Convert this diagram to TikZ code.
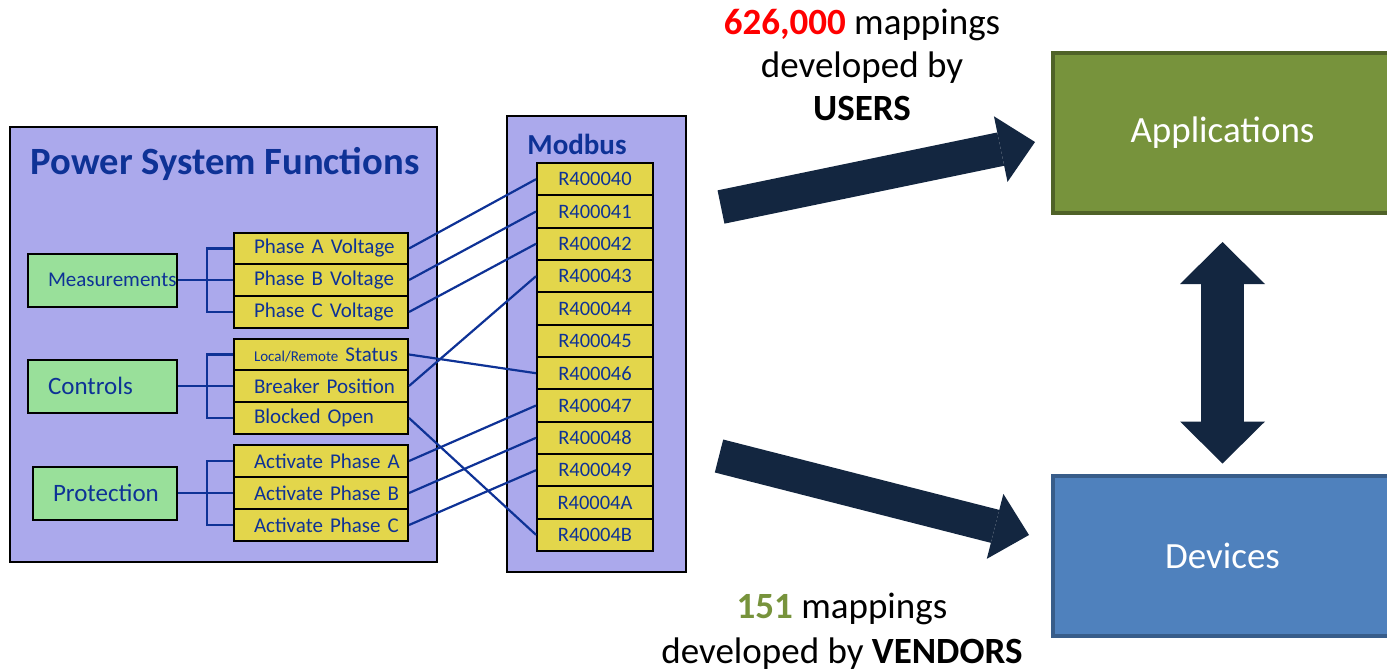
\documentclass[tikz,border=0pt]{standalone}
\usepackage{fontspec}
\setmainfont{Carlito}
\usetikzlibrary{arrows.meta,calc}

\definecolor{lavender}{RGB}{171,169,236}
\definecolor{regyellow}{RGB}{227,214,75}
\definecolor{funcgreen}{RGB}{153,224,154}
\definecolor{inkblue}{RGB}{14,50,150}
\definecolor{navy}{RGB}{19,38,64}
\definecolor{appgreen}{RGB}{119,147,60}
\definecolor{appborder}{RGB}{79,98,40}
\definecolor{devblue}{RGB}{79,129,189}
\definecolor{devborder}{RGB}{56,93,138}

\begin{document}
\begin{tikzpicture}[x=0.5pt, y=-0.5pt,
    panel/.style={draw=black, line width=1pt, fill=lavender, inner sep=0pt},
    func/.style={draw=black, line width=1pt, fill=funcgreen, text=inkblue,
        minimum height=26.5pt, text width=74.5pt, inner xsep=0pt, align=left,
        execute at begin node={\hyphenpenalty=10000\hspace*{10pt}}},
    signal/.style={draw=black, line width=1pt, fill=regyellow, text=inkblue,
        minimum height=16pt, text width=87pt, inner xsep=0pt, align=left,
        font=\fontsize{10.5}{12}\selectfont,
        execute at begin node={\hspace*{10pt}}},
    reg/.style={draw=black, line width=1pt, fill=regyellow, text=inkblue,
        minimum width=58pt, minimum height=16.17pt, inner sep=0pt,
        font=\fontsize{10.25}{12}\selectfont},
    link/.style={draw=inkblue, line width=1.1pt},
    bigarrow/.style={draw=navy, line width=17pt,
        -{Triangle[length=17.5pt, width=33.5pt, line width=0pt]}},
    target/.style={line width=2pt, minimum width=169.5pt, minimum height=80pt,
        text=white, font=\fontsize{18.5}{22}\selectfont}
  ]
    \path[use as bounding box, fill=white] (0,0) rectangle (1387,671);

    % power system functions
    \node[panel, minimum width=213.5pt, minimum height=217.5pt] (psf) at (223.5,344.5) {};
    \node[text=inkblue, font=\fontsize{19.3}{23}\selectfont\bfseries, anchor=base]
         (psftitle) at (225,174) {Power System Functions};

    \node[func, font=\fontsize{10.5}{12}\selectfont] (meas) at (102.5,280) {Measurements};
    \node[func, font=\fontsize{12.5}{15}\selectfont] (ctl)  at (102.5,386) {Controls};
    \node[func, font=\fontsize{12.5}{15}\selectfont, text width=72pt]
         (prot) at (105,493) {Protection};

    \node[signal] (pha) at (321,248.5) {Phase A Voltage};
    \node[signal] (phb) at (321,280)   {Phase B Voltage};
    \node[signal] (phc) at (321,312)   {Phase C Voltage};
    \node[signal] (lrs) at (321,354.5) {{\fontsize{7.5}{9}\selectfont Local/Remote} Status};
    \node[signal] (brk) at (321,386)   {Breaker Position};
    \node[signal] (blk) at (321,418)   {Blocked Open};
    \node[signal] (aca) at (321,461)   {Activate Phase A};
    \node[signal] (acb) at (321,493)   {Activate Phase B};
    \node[signal] (acc) at (321,525)   {Activate Phase C};

    % modbus registers
    \node[panel, minimum width=89.5pt, minimum height=228pt] (mb) at (596.5,344) {};
    \node[text=inkblue, font=\fontsize{14.5}{17}\selectfont\bfseries, anchor=base west,
         inner sep=0pt] (mbtitle) at (527,154) {Modbus};

    \node[reg] (r40) at (595,179.2) {R400040};
    \node[reg] (r41) at (595,211.5) {R400041};
    \node[reg] (r42) at (595,243.8) {R400042};
    \node[reg] (r43) at (595,276.2) {R400043};
    \node[reg] (r44) at (595,308.5) {R400044};
    \node[reg] (r45) at (595,340.8) {R400045};
    \node[reg] (r46) at (595,373.2) {R400046};
    \node[reg] (r47) at (595,405.5) {R400047};
    \node[reg] (r48) at (595,437.8) {R400048};
    \node[reg] (r49) at (595,470.2) {R400049};
    \node[reg] (r4A) at (595,502.5) {R40004A};
    \node[reg] (r4B) at (595,534.8) {R40004B};

    % applications and devices
    \node[target, draw=appborder, fill=appgreen] (apps) at (1222.5,133)   {Applications};
    \node[target, draw=devborder, fill=devblue]  (devs) at (1222.5,555.5) {Devices};

    \node[align=center, font=\fontsize{18.5}{21.5}\selectfont] (usrnote) at (862,65)
         {\textcolor{red}{\bfseries 626,000} mappings\\developed by\\\textbf{USERS}};
    \node[align=center, font=\fontsize{18.5}{22.5}\selectfont] (vndnote) at (842,631)
         {\textcolor{appgreen}{\bfseries 151} mappings\\developed by \textbf{VENDORS}};

    \coordinate (usrtail) at (721,207);
    \coordinate (usrtip)  at (1035,142);
    \coordinate (vndtail) at (719,456);
    \coordinate (vndtip)  at (1029,535);

    %edges
    \draw[link] (meas.east) -- (phb.west);
    \draw[link] (pha.west) -- ++(-26,0) |- (phc.west);
    \draw[link] (ctl.east) -- (brk.west);
    \draw[link] (lrs.west) -- ++(-26,0) |- (blk.west);
    \draw[link] (prot.east) -- (acb.west);
    \draw[link] (aca.west) -- ++(-26,0) |- (acc.west);

    \draw[link] (pha.east) -- (r40.west);
    \draw[link] (phb.east) -- (r41.west);
    \draw[link] (phc.east) -- (r42.west);
    \draw[link] (lrs.east) -- (r46.west);
    \draw[link] (brk.east) -- (r43.west);
    \draw[link] (blk.east) -- (r4B.west);
    \draw[link] (aca.east) -- (r47.west);
    \draw[link] (acb.east) -- (r48.west);
    \draw[link] (acc.east) -- (r49.west);

    \draw[bigarrow] (usrtail) -- (usrtip);
    \draw[bigarrow] (vndtail) -- (vndtip);
    \draw[draw=navy, line width=21.5pt,
          {Triangle[length=21pt, width=42.5pt, line width=0pt]}-{Triangle[length=21pt, width=42.5pt, line width=0pt]}]
         ($(apps.south)+(0,27)$) -- ($(devs.north)+(0,-10)$);
\end{tikzpicture}
\end{document}
